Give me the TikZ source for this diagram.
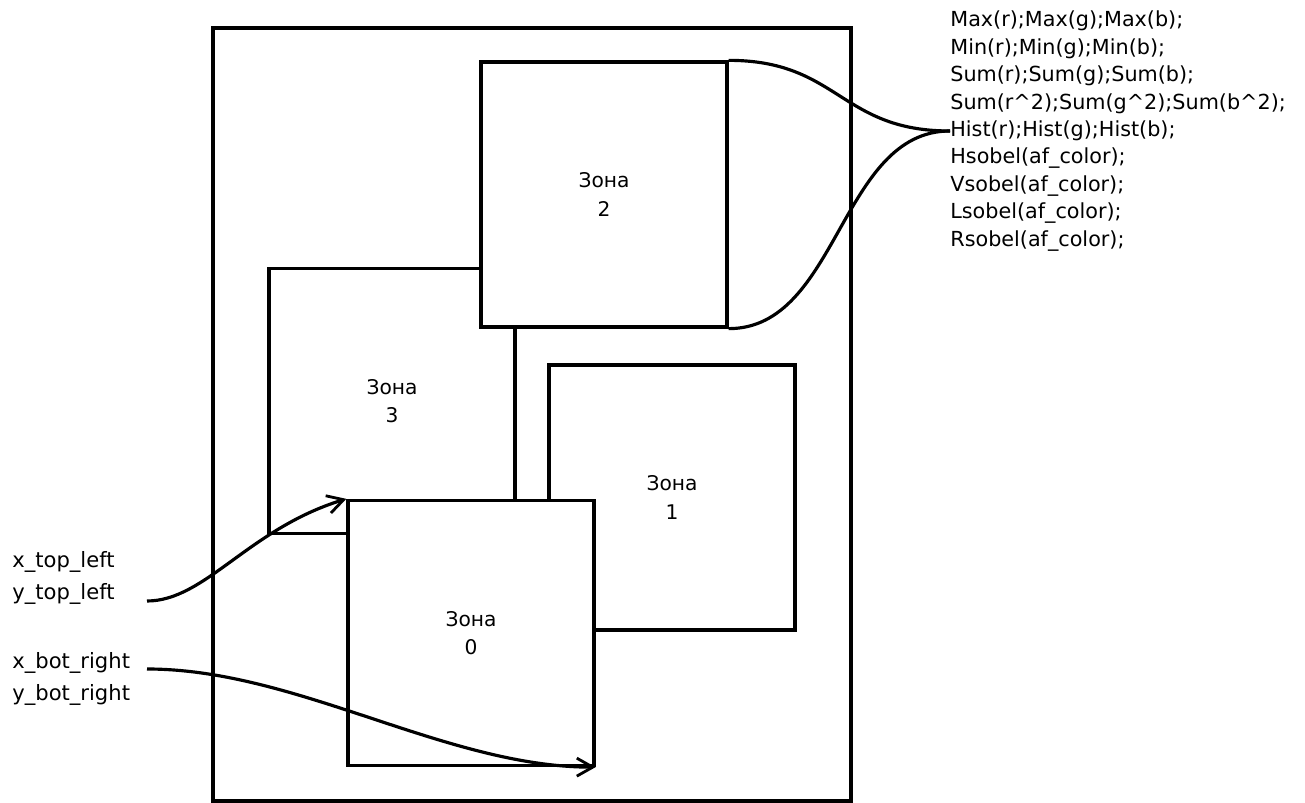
\documentclass[tikz,border=0pt]{standalone}
\usepackage{fontspec}
\setmainfont{DejaVu Sans}
\usetikzlibrary{positioning,arrows.meta}

\begin{document}
\begin{tikzpicture}[
  x=0.02cm, y=-0.02cm,
  zonebox/.style={draw=black, fill=white, line width=1.9pt, minimum width=4.92cm, minimum height=5.3cm, align=center, font=\fontsize{11.5}{16}\selectfont},
  framebox/.style={draw=black, line width=1.9pt, minimum width=12.76cm, minimum height=15.46cm, inner sep=0pt},
  lbltext/.style={align=left, inner sep=0pt, font=\fontsize{12}{18.2}\selectfont},
  statstext/.style={align=left, inner sep=0pt, font=\fontsize{11.8}{15.6}\selectfont},
  wire/.style={line width=1.8pt},
  wirearrow/.style={wire, -{Straight Barb[length=3.2mm,width=3.6mm,line width=1.6pt]}}
]
\useasboundingbox (0,0) rectangle (1305,803);
\node[framebox] (frame) at (532,414.5) {};
\node[zonebox] (z3) at (392,401) {Зона\\3};
\node[zonebox] (z2) at (604,194.5) {Зона\\2};
\node[zonebox] (z1) at (672,497.5) {Зона\\1};
\node[zonebox] (z0) at (471,633) {Зона\\0};
\node[statstext, anchor=west] (stats) at (950,131) {Max(r);Max(g);Max(b);\\Min(r);Min(g);Min(b);\\Sum(r);Sum(g);Sum(b);\\Sum(r\textasciicircum2);Sum(g\textasciicircum2);Sum(b\textasciicircum2);\\Hist(r);Hist(g);Hist(b);\\Hsobel(af\_color);\\Vsobel(af\_color);\\Lsobel(af\_color);\\Rsobel(af\_color);};
\node[lbltext, anchor=west] (topleft) at (12,578) {x\_top\_left\\y\_top\_left};
\node[lbltext, anchor=west] (botright) at (12,679) {x\_bot\_right\\y\_bot\_right};
\coordinate (tlend) at (147,601);
\coordinate (brend) at (147,669);
% zone 2 -> features
\draw[wire] (z2.north east) .. controls +(110,0) and +(-110,0) .. (stats.west);
\draw[wire] (z2.south east) .. controls +(110,0) and +(-110,0) .. (stats.west);
% corners of zone 0
\draw[wirearrow] (tlend) .. controls +(58,0) and +(-98,30) .. (z0.north west);
\draw[wirearrow] (brend) .. controls +(150,0) and +(-150,0) .. (z0.south east);
\end{tikzpicture}
\end{document}
